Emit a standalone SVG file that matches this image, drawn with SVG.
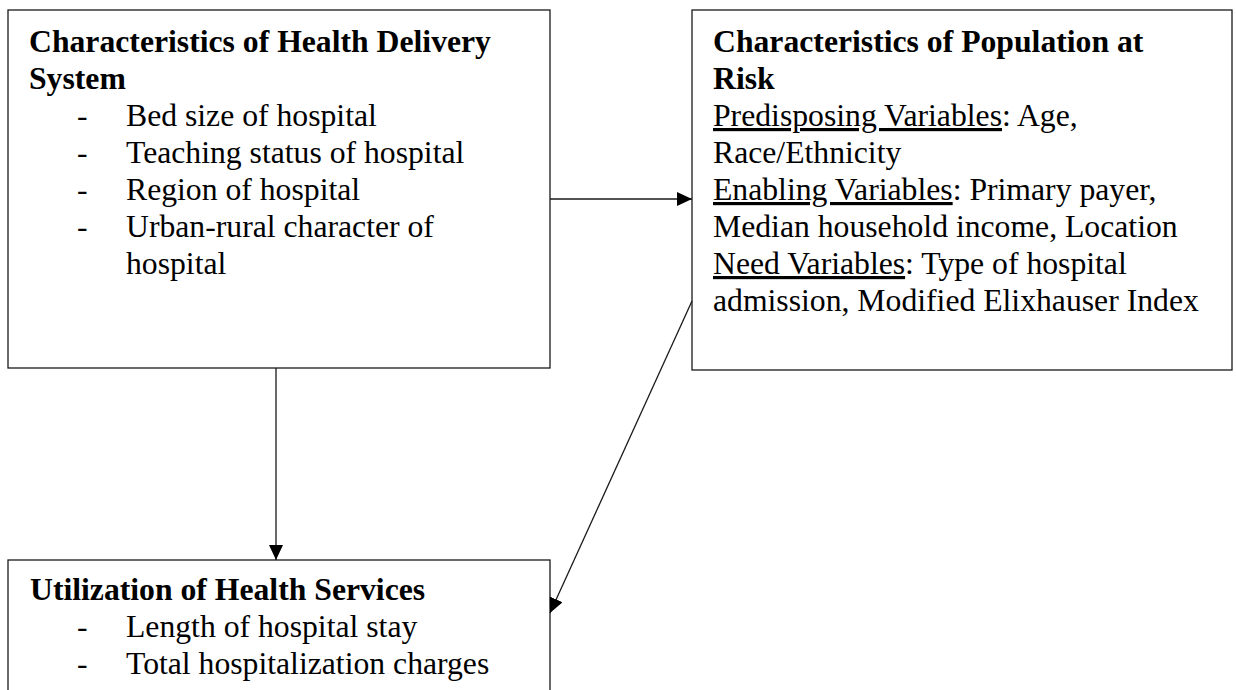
<svg xmlns="http://www.w3.org/2000/svg" width="1236" height="690" viewBox="0 0 1236 690">
  <style>
    .box { fill: #ffffff; stroke: #1a1a1a; stroke-width: 1.3; }
    .t { font-family: "Liberation Serif", "Times New Roman", serif; font-size: 31.7px; fill: #000000; }
    .b { font-weight: bold; }
    .u { text-decoration: underline; }
    .conn { stroke: #1a1a1a; stroke-width: 1.3; fill: none; }
  </style>
  <defs>
    <marker id="arrow" markerUnits="userSpaceOnUse" markerWidth="16" markerHeight="16" viewBox="0 0 16 16" refX="15" refY="7" orient="auto">
      <path d="M0,0 L15,7 L0,14 Z" fill="#000000"/>
    </marker>
  </defs>
  <rect x="0" y="0" width="1236" height="690" fill="#ffffff"/>

  <g id="node-health-delivery">
    <rect class="box" x="8" y="10" width="542" height="358"/>
    <text class="t b" x="29" y="52">Characteristics of Health Delivery</text>
    <text class="t b" x="29" y="89">System</text>
    <text class="t" x="77" y="126">-</text>
    <text class="t" x="126" y="126">Bed size of hospital</text>
    <text class="t" x="77" y="163">-</text>
    <text class="t" x="126" y="163">Teaching status of hospital</text>
    <text class="t" x="77" y="200">-</text>
    <text class="t" x="126" y="200">Region of hospital</text>
    <text class="t" x="77" y="237">-</text>
    <text class="t" x="126" y="237">Urban-rural character of</text>
    <text class="t" x="126" y="274">hospital</text>
  </g>

  <g id="node-population">
    <rect class="box" x="692" y="10" width="540" height="360"/>
    <text class="t b" x="713" y="52">Characteristics of Population at</text>
    <text class="t b" x="713" y="89">Risk</text>
    <text class="t" x="713" y="126"><tspan class="u">Predisposing Variables</tspan>: Age,</text>
    <text class="t" x="713" y="163">Race/Ethnicity</text>
    <text class="t" x="713" y="200"><tspan class="u">Enabling Variables</tspan>: Primary payer,</text>
    <text class="t" x="713" y="237">Median household income, Location</text>
    <text class="t" x="713" y="274"><tspan class="u">Need Variables</tspan>: Type of hospital</text>
    <text class="t" x="713" y="311">admission, Modified Elixhauser Index</text>
  </g>

  <g id="node-utilization">
    <rect class="box" x="8" y="560" width="542" height="160"/>
    <text class="t b" x="30" y="600">Utilization of Health Services</text>
    <text class="t" x="77" y="637">-</text>
    <text class="t" x="126" y="637">Length of hospital stay</text>
    <text class="t" x="77" y="674">-</text>
    <text class="t" x="126" y="674">Total hospitalization charges</text>
  </g>

  <g id="connectors">
    <line class="conn" x1="550" y1="199" x2="692" y2="199" marker-end="url(#arrow)"/>
    <line class="conn" x1="276" y1="368" x2="276" y2="560" marker-end="url(#arrow)"/>
    <line class="conn" x1="692" y1="301" x2="550" y2="613" marker-end="url(#arrow)"/>
  </g>
</svg>
